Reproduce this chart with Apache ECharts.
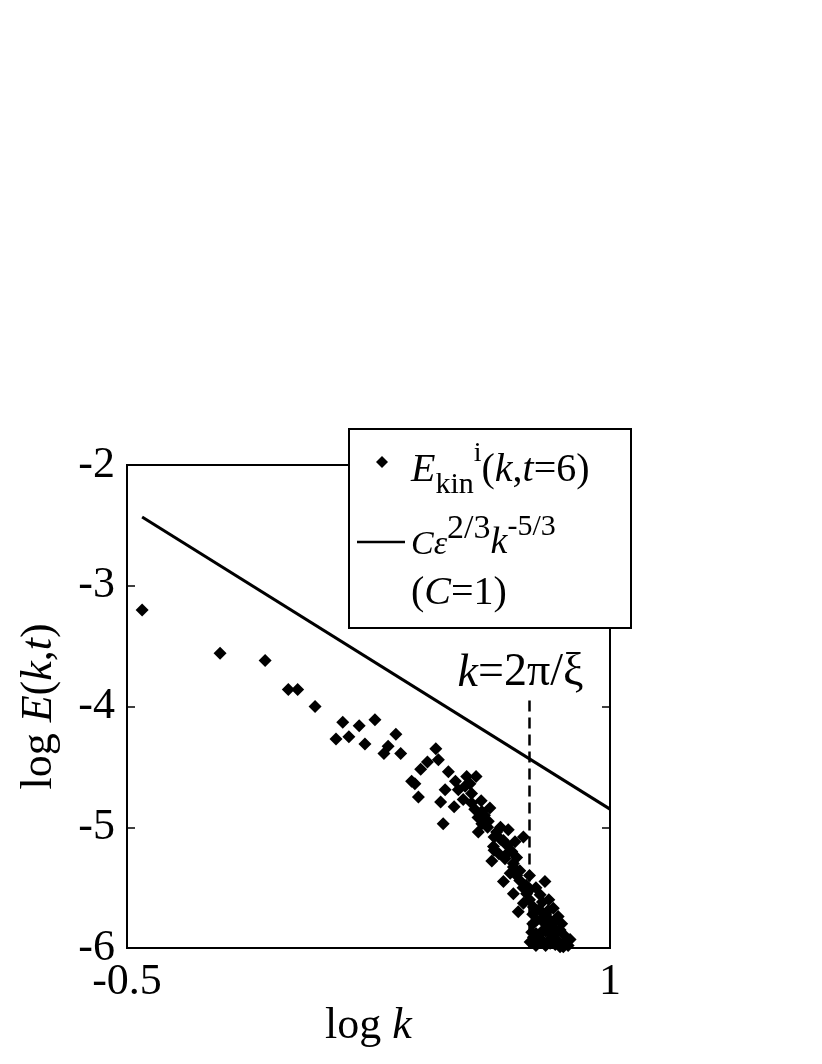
<!DOCTYPE html>
<html><head><meta charset="utf-8">
<script src="https://cdn.jsdelivr.net/npm/echarts@6/dist/echarts.min.js"></script>
<style>html,body{margin:0;padding:0;background:#fff}#c{width:822px;height:1064px}</style>
</head><body><div id="c"></div>
<script>
// Scatter data: log k and log E_kin^i(k, t=6)
const logK = [-0.453,-0.211,-0.071,0.001,0.030,0.084,0.170,0.221,0.270,0.149,0.189,0.239,0.335,0.311,0.298,0.350,
  0.459,0.467,0.433,0.412,0.498,0.384,0.394,0.405,0.555,0.584,0.565,0.488,0.529,0.544,0.570,0.474,0.516,0.482,
  0.602,0.627,0.622,0.602,0.591,0.648,0.684,0.638,0.669,0.705,0.731,0.695,0.640,0.633,0.674,0.700,0.669,0.720,
  0.798,0.700,0.741,0.783,0.715,0.762,0.808,0.772,0.829,0.793,0.845,0.762,0.814,0.876,0.845,0.731,0.824,0.839,
  0.814,0.783,0.752,0.757,0.798,0.855,0.610,0.660,0.680,0.710,0.720,0.750,0.740,0.770,0.790,0.800,0.820,0.830,
  0.860,0.800,0.770,0.700,0.655,
  0.760,0.780,0.800,0.810,0.820,0.840,0.850,0.860,0.870,0.830,0.790,0.770,0.760,0.790,0.810,0.750,0.730,0.710,
  0.690,0.750,0.680,0.660,0.640,0.620,0.590,0.550,0.570,0.600,0.520,0.580];
const logE = [-3.20,-3.56,-3.62,-3.86,-3.86,-4.00,-4.13,-4.16,-4.11,-4.27,-4.25,-4.31,-4.23,-4.33,-4.39,-4.39,
  -4.35,-4.44,-4.46,-4.52,-4.54,-4.62,-4.64,-4.75,-4.58,-4.58,-4.64,-4.69,-4.69,-4.77,-4.80,-4.79,-4.83,-4.97,
  -4.87,-4.84,-4.95,-4.97,-5.04,-5.04,-5.02,-5.16,-5.11,-5.12,-5.08,-5.20,-5.19,-5.28,-5.26,-5.33,-5.45,-5.44,
  -5.45,-5.55,-5.55,-5.56,-5.70,-5.66,-5.69,-5.77,-5.77,-5.85,-5.85,-5.91,-5.93,-5.93,-5.99,-5.63,-5.67,-5.74,
  -5.96,-5.92,-5.95,-5.87,-5.80,-5.99,-4.90,-5.00,-5.15,-5.25,-5.36,-5.40,-5.48,-5.50,-5.62,-5.72,-5.82,-5.88,
  -5.90,-5.98,-5.98,-5.30,-5.22,
  -5.72,-5.68,-5.86,-5.76,-5.90,-5.95,-5.80,-5.95,-5.98,-5.97,-5.95,-5.88,-5.80,-5.75,-5.60,-5.60,-5.50,-5.40,
  -5.38,-5.52,-5.22,-5.10,-5.08,-5.00,-4.92,-4.66,-4.72,-4.78,-4.62,-4.85];
// Kolmogorov line C eps^(2/3) k^(-5/3), endpoints
const fitK = [-0.453, 1.0];
const fitE = [-2.43, -4.85];
// cutoff k = 2pi/xi
const cutK = [0.75, 0.75];
const cutE = [-3.95, -6];
// axes
const xMin = -0.5, xMax = 1, xStep = 1.5;
const yMin = -6, yMax = -2, yStep = 1;

const FF = "'Liberation Serif','Times New Roman',serif";
const zip = (a, b) => a.map((v, i) => [v, b[i]]);

const chart = echarts.init(document.getElementById('c'), null, {renderer: 'canvas'});
const richBase = (s) => ({
  a: {fontFamily: FF, fontSize: s, color: '#000'},
  i: {fontFamily: FF, fontSize: s, fontStyle: 'italic', color: '#000'}
});
const cutData = zip(cutK, cutE).map((p, i) => i === 0 ? {
  value: p,
  label: {show: true, position: 'top', distance: 4, offset: [-9, 0],
    formatter: '{i|k}{a|=2π/ξ}', rich: richBase(46)}
} : {value: p});

chart.setOption({
  animation: false,
  backgroundColor: '#fff',
  grid: {left: 127, right: 212, top: 465, bottom: 116, show: true, borderColor: '#000', borderWidth: 2, backgroundColor: 'transparent'},
  xAxis: {
    type: 'value', min: xMin, max: xMax, interval: xStep,
    axisLine: {show: true, onZero: false, lineStyle: {color: '#000', width: 2}},
    axisTick: {show: false}, splitLine: {show: false},
    axisLabel: {fontFamily: FF, fontSize: 44, color: '#000', margin: 12},
    name: '{a|log }{i|k}', nameLocation: 'middle', nameGap: 56,
    nameTextStyle: {rich: richBase(44)}
  },
  yAxis: [{
    type: 'value', min: yMin, max: yMax, interval: yStep,
    axisLine: {show: true, onZero: false, lineStyle: {color: '#000', width: 2}},
    axisTick: {show: true, inside: true, length: 8, lineStyle: {color: '#000', width: 1.5}},
    splitLine: {show: false},
    axisLabel: {fontFamily: FF, fontSize: 44, color: '#000', margin: 12},
    name: '{a|log }{i|E}{a|(}{i|k}{a|,}{i|t}{a|)}', nameLocation: 'middle', nameGap: 66, nameRotate: 90,
    nameTextStyle: {rich: richBase(44)}
  }, {
    type: 'value', min: yMin, max: yMax, interval: yStep, position: 'right',
    axisLine: {show: true, onZero: false, lineStyle: {color: '#000', width: 2}},
    axisTick: {show: true, inside: true, length: 8, lineStyle: {color: '#000', width: 1.5}},
    axisLabel: {show: false}, splitLine: {show: false}
  }],
  series: [{
    type: 'scatter', data: zip(logK, logE), symbol: 'diamond', symbolSize: 13,
    itemStyle: {color: '#000', opacity: 1}, z: 3
  }, {
    type: 'line', data: zip(fitK, fitE), showSymbol: false, symbol: 'none',
    lineStyle: {color: '#000', width: 3}, z: 2
  }, {
    type: 'line', data: cutData, symbol: 'circle', symbolSize: 0.1, showSymbol: true,
    itemStyle: {color: '#000'},
    lineStyle: {color: '#000', width: 2.5, type: [11, 6]}, z: 2
  }],
  graphic: [
    {type: 'rect', shape: {x: 349, y: 429, width: 282, height: 199}, style: {fill: '#fff', stroke: '#000', lineWidth: 2}, z: 100},
    {type: 'polygon', shape: {points: [[382, 456], [388, 462], [382, 468], [376, 462]]}, style: {fill: '#000'}, z: 101},
    {type: 'line', shape: {x1: 357, y1: 542, x2: 405, y2: 542}, style: {stroke: '#000', lineWidth: 2.5}, z: 101},
    {type: 'text', x: 411, y: 440, z: 101, style: {
      text: '{E|E}{sub|kin}{sup|i}{a|(}{i|k}{a|,}{i|t}{a|=6)}',
      rich: {
        E: {fontFamily: FF, fontSize: 40, fontStyle: 'italic', lineHeight: 60, verticalAlign: 'middle'},
        i: {fontFamily: FF, fontSize: 40, fontStyle: 'italic', lineHeight: 60, verticalAlign: 'middle'},
        a: {fontFamily: FF, fontSize: 40, lineHeight: 60, verticalAlign: 'middle'},
        sub: {fontFamily: FF, fontSize: 30, lineHeight: 28, verticalAlign: 'bottom'},
        sup: {fontFamily: FF, fontSize: 28, lineHeight: 26, verticalAlign: 'top'}
      }}},
    {type: 'text', x: 411, y: 512, z: 101, style: {
      text: '{s|C}{s|ε}{sup|2/3}{i|k}{sup2|-5/3}',
      rich: {
        s: {fontFamily: FF, fontSize: 34, fontStyle: 'italic', lineHeight: 50, verticalAlign: 'bottom'},
        i: {fontFamily: FF, fontSize: 38, fontStyle: 'italic', lineHeight: 50, verticalAlign: 'bottom'},
        sup: {fontFamily: FF, fontSize: 34, lineHeight: 34, verticalAlign: 'top'},
        sup2: {fontFamily: FF, fontSize: 30, lineHeight: 30, verticalAlign: 'top'}
      }}},
    {type: 'text', x: 411, y: 570, z: 101, style: {
      text: '{a|(}{i|C}{a|=1)}',
      rich: {
        a: {fontFamily: FF, fontSize: 40, lineHeight: 46},
        i: {fontFamily: FF, fontSize: 40, fontStyle: 'italic', lineHeight: 46}
      }}}
  ]
});
</script>
</body></html>
